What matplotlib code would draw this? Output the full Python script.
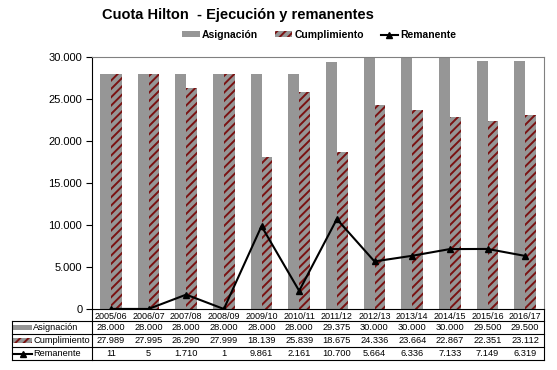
import matplotlib.pyplot as plt
import matplotlib.transforms as mtransforms
from matplotlib.patches import Patch, Rectangle
from matplotlib.lines import Line2D

plt.rcParams['font.family'] = ['Liberation Sans', 'DejaVu Sans']
plt.rcParams['hatch.linewidth'] = 1.4

# Datos
campanas = ['2005/06', '2006/07', '2007/08', '2008/09', '2009/10', '2010/11',
            '2011/12', '2012/13', '2013/14', '2014/15', '2015/16', '2016/17']
asignacion = [28000, 28000, 28000, 28000, 28000, 28000, 29375, 30000, 30000, 30000, 29500, 29500]
cumplimiento = [27989, 27995, 26290, 27999, 18139, 25839, 18675, 24336, 23664, 22867, 22351, 23112]
remanente = [11, 5, 1710, 1, 9861, 2161, 10700, 5664, 6336, 7133, 7149, 6319]

gris = '#969696'
rojo = '#7a1212'


def miles(v):
    return f'{v:,.0f}'.replace(',', '.')


fig = plt.figure(figsize=(5.57, 3.70), dpi=100)
ax = fig.add_axes([92 / 557, 1 - 309 / 370, 452 / 557, 252 / 370])

x = list(range(len(campanas)))
ancho = 0.285
ax.bar([i - ancho / 2 for i in x], asignacion, ancho, color=gris, linewidth=0)
ax.bar([i + ancho / 2 for i in x], cumplimiento, ancho, color=gris, hatch='////',
       edgecolor=rojo, linewidth=0)
ax.plot(x, remanente, color='black', linewidth=1.5, marker='^', markersize=5)

ax.set_xlim(-0.5, len(campanas) - 0.5)
ax.set_ylim(0, 30000)
ax.set_yticks(range(0, 30001, 5000))
ax.set_yticklabels([miles(v) for v in range(0, 30001, 5000)], fontsize=8)
ax.set_xticks(x)
ax.set_xticklabels(campanas, fontsize=6.5)
ax.tick_params(axis='x', length=0, pad=2)
ax.tick_params(axis='y', length=4, pad=3)
for s in ['top', 'right']:
    ax.spines[s].set_color('#808080')
    ax.spines[s].set_linewidth(0.8)

# Tabla de datos
trans = mtransforms.blended_transform_factory(ax.transData, ax.transAxes)


def fy(p):
    return (309 - p) / 252


px_unit = 452 / len(campanas)
xl = -0.5 - 80 / px_unit
xr = len(campanas) - 0.5
bordes = [321, 334, 347, 360]
for b in bordes:
    ax.plot([xl, xr], [fy(b), fy(b)], color='black', lw=0.8, transform=trans, clip_on=False)
ax.plot([xl, xl], [fy(321), fy(360)], color='black', lw=0.8, transform=trans, clip_on=False)
ax.plot([-0.5, -0.5], [0, fy(360)], color='black', lw=0.8, transform=trans, clip_on=False)
ax.plot([xr, xr], [0, fy(360)], color='black', lw=0.8, transform=trans, clip_on=False)

filas = [('Asignación', asignacion), ('Cumplimiento', cumplimiento), ('Remanente', remanente)]
sx0 = -0.5 - (92 - 13) / px_unit
sx1 = -0.5 - (92 - 32) / px_unit
tx = -0.5 - (92 - 33) / px_unit
alto = 5 / 252
for k, (nombre, valores) in enumerate(filas):
    ym = fy((bordes[k] + bordes[k + 1]) / 2)
    for i, v in enumerate(valores):
        ax.text(i, ym, miles(v), ha='center', va='center', fontsize=6.7,
                transform=trans, clip_on=False)
    ax.text(tx, ym, nombre, ha='left', va='center', fontsize=6.7, transform=trans)
    if k == 0:
        ax.add_patch(Rectangle((sx0, ym - alto / 2), sx1 - sx0, alto, color=gris, lw=0,
                               transform=trans, clip_on=False))
    elif k == 1:
        ax.add_patch(Rectangle((sx0, ym - alto / 2), sx1 - sx0, alto, facecolor=gris,
                               edgecolor=rojo, hatch='////', lw=0,
                               transform=trans, clip_on=False))
    else:
        ax.plot([sx0, sx1], [ym, ym], color='black', lw=1.5, transform=trans, clip_on=False)
        ax.plot([(sx0 + sx1) / 2], [ym], color='black', marker='^', markersize=5,
                transform=trans, clip_on=False)

# Leyenda superior
handles = [Patch(facecolor=gris, linewidth=0, label='Asignación'),
           Patch(facecolor=gris, edgecolor=rojo, hatch='////', linewidth=0, label='Cumplimiento'),
           Line2D([0], [0], color='black', lw=1.5, marker='^', markersize=5, label='Remanente')]
fig.legend(handles=handles, loc='center', bbox_to_anchor=(0.573, 0.905), ncol=3,
           frameon=False, prop={'size': 7.5, 'weight': 'bold'}, handlelength=1.7,
           handleheight=0.5, handletextpad=0.2, columnspacing=1.6)

fig.text(102 / 557, 1 - 15 / 370, 'Cuota Hilton  - Ejecución y remanentes',
         fontsize=10.5, fontweight='bold', ha='left', va='center')

fig.savefig('out.png', dpi=100)
